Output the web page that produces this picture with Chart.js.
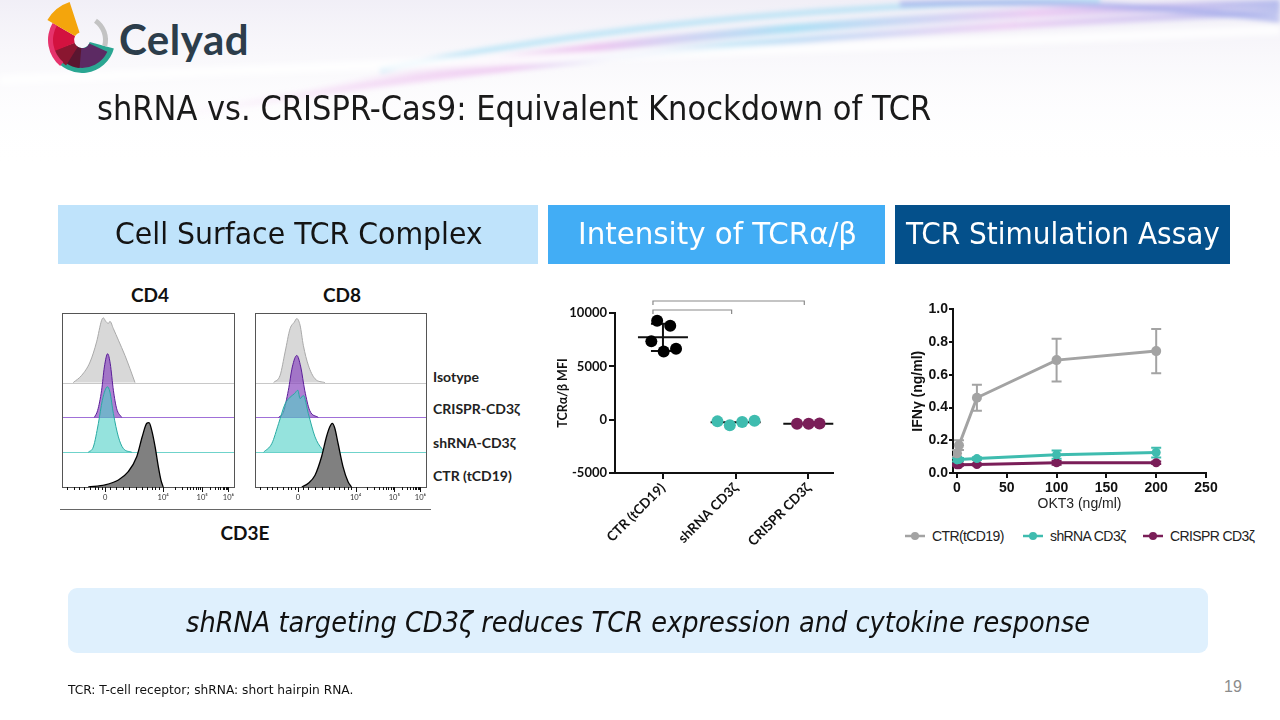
<!DOCTYPE html>
<html>
<head>
<meta charset="utf-8">
<script src="https://cdn.jsdelivr.net/npm/chart.js@4.4.0/dist/chart.umd.min.js"></script>
<style>
  html, body { margin: 0; padding: 0; }
  body {
    width: 1280px; height: 720px; position: relative; overflow: hidden; background: #fff;
    font-family: "DejaVu Sans Condensed", "DejaVu Sans", sans-serif; font-stretch: condensed;
  }
  .abs { position: absolute; }
  .fit { position: absolute; white-space: nowrap; transform-origin: 0 50%; }
  .hdr { position: absolute; top: 205px; height: 59px; }
  .rowlbl { position: absolute; left: 433px; font-family: Lato, sans-serif; font-weight: 700; font-size: 14px; color: #222; }
  .ptitle { position: absolute; font-family: Lato, sans-serif; font-weight: 700; font-size: 19px; color: #111; transform: translate(-50%, -50%); }
  .legend { position: absolute; top: 528px; font-family: "Liberation Sans", Arial, sans-serif; font-size: 14px; color: #222; display: flex; align-items: center; letter-spacing: -0.6px; }
  .legend svg { margin-right: 7px; }
  canvas { position: absolute; }
</style>
</head>
<body>

<!-- background swoosh -->
<svg class="abs" style="left:0;top:0" width="1280" height="200">
  <defs>
    <linearGradient id="bgfade" x1="0" y1="0" x2="0" y2="1">
      <stop offset="0" stop-color="#ebe8f3"/>
      <stop offset="1" stop-color="#ffffff" stop-opacity="0"/>
    </linearGradient>
    <linearGradient id="band" x1="0" y1="0" x2="1" y2="0">
      <stop offset="0" stop-color="#e9b3ea" stop-opacity="0"/>
      <stop offset="0.3" stop-color="#e7a8ea"/>
      <stop offset="0.5" stop-color="#7fd3f2"/>
      <stop offset="0.75" stop-color="#e8b5f0"/>
      <stop offset="1" stop-color="#8f9be6"/>
    </linearGradient>
    <filter id="soft"><feGaussianBlur stdDeviation="2.5"/></filter>
  </defs>
  <rect x="0" y="0" width="1280" height="170" fill="url(#bgfade)" opacity="0.7"/>
  <g filter="url(#soft)" fill="none">
    <path d="M180 115 Q 600 40 1280 12" stroke="url(#band)" stroke-width="7" opacity="0.55"/>
    <path d="M300 95 Q 650 20 1280 4" stroke="url(#band)" stroke-width="9" opacity="0.6"/>
    <path d="M380 70 Q 700 5 1100 0" stroke="#7fd3f2" stroke-width="6" opacity="0.45"/>
    <path d="M900 4 Q 1100 -2 1280 20" stroke="#9aa3ea" stroke-width="6" opacity="0.6"/>
    <path d="M0 80 Q 500 60 1280 30" stroke="#ffffff" stroke-width="10" opacity="0.8"/>
  </g>
</svg>

<!-- logo -->
<svg id="logo" class="abs" style="left:40px;top:0" width="80" height="80"></svg>
<div class="abs" style="left:119px;top:14px;font-family:Lato,sans-serif;font-weight:700;font-size:42px;color:#2c3d4b;letter-spacing:0.5px">Celyad</div>

<!-- title -->
<div id="title" class="fit" data-w="834" style="left:97px;top:89px;font-size:33px;color:#1a1a1a;line-height:40px">shRNA vs. CRISPR-Cas9: Equivalent Knockdown of TCR</div>

<!-- section headers -->
<div class="hdr" style="left:58px;width:480px;background:#bfe3fb"></div>
<div class="hdr" style="left:548px;width:337px;background:#42adf5"></div>
<div class="hdr" style="left:895px;width:335px;background:#04508b"></div>
<div class="fit" data-w="368" style="left:115px;top:216px;font-size:30px;line-height:36px;color:#141414">Cell Surface TCR Complex</div>
<div class="fit" data-w="279" style="left:578px;top:216px;font-size:30px;line-height:36px;color:#fff">Intensity of TCRα/β</div>
<div class="fit" data-w="314" style="left:906px;top:216px;font-size:30px;line-height:36px;color:#fff">TCR Stimulation Assay</div>

<!-- flow panel texts -->
<div class="ptitle" style="left:150px;top:294px">CD4</div>
<div class="ptitle" style="left:342px;top:294px">CD8</div>
<div class="rowlbl" style="top:368px">Isotype</div>
<div class="rowlbl" style="top:400px">CRISPR-CD3ζ</div>
<div class="rowlbl" style="top:434px">shRNA-CD3ζ</div>
<div class="rowlbl" style="top:467px">CTR (tCD19)</div>
<div class="abs" style="left:60px;top:509px;width:371px;height:1px;background:#666"></div>
<div class="ptitle" style="left:245px;top:532px">CD3E</div>

<canvas id="flowCD4" width="177" height="192" style="left:60px;top:311px"></canvas>
<canvas id="flowCD8" width="176" height="192" style="left:253px;top:311px"></canvas>
<canvas id="dotChart" width="285" height="270" style="left:555px;top:290px"></canvas>
<canvas id="lineChart" width="330" height="213" style="left:895px;top:300px"></canvas>

<!-- legend for the line chart -->
<div class="legend" style="left:905px" id="lg0"></div>
<div class="legend" style="left:1023px" id="lg1"></div>
<div class="legend" style="left:1143px" id="lg2"></div>

<!-- bottom banner -->
<div class="abs" style="left:68px;top:588px;width:1140px;height:65px;background:#dff0fd;border-radius:9px"></div>
<div class="fit" data-w="904" style="left:186px;top:604px;font-size:29px;line-height:36px;font-style:italic;color:#111">shRNA targeting CD3ζ reduces TCR expression and cytokine response</div>
<div class="fit" data-w="285" style="left:68px;top:682px;font-size:13px;line-height:16px;color:#111">TCR: T-cell receptor; shRNA: short hairpin RNA.</div>
<div class="abs" style="left:1224px;top:678px;font-family:'Liberation Sans',Arial,sans-serif;font-size:16px;color:#8c8c8c">19</div>

<script>
// ---------- Data: TCR stimulation assay (IFNγ vs OKT3) ----------
const okt3 = [0, 2, 20, 100, 200];
const ctrIfn = [0.12, 0.17, 0.46, 0.69, 0.745];
const ctrErr = [0.02, 0.03, 0.08, 0.13, 0.135];
const shIfn = [0.08, 0.082, 0.088, 0.112, 0.125];
const shErr = [0.01, 0.01, 0.008, 0.025, 0.03];
const crIfn = [0.05, 0.05, 0.052, 0.062, 0.063];
const crErr = [0.006, 0.006, 0.006, 0.012, 0.008];
const okt3Ticks = [0, 50, 100, 150, 200, 250];
const ifnTicks = [0, 0.2, 0.4, 0.6, 0.8, 1.0];
const seriesNames = ['CTR(tCD19)', 'shRNA CD3ζ', 'CRISPR CD3ζ'];

// ---------- Data: TCRα/β MFI dot plot ----------
const groups = ['CTR (tCD19)', 'shRNA CD3ζ', 'CRISPR CD3ζ'];
const ctrMfi = [9280, 8800, 7340, 6400, 6650];
const ctrJitter = [-0.08, 0.1, -0.16, 0.01, 0.18];
const shMfi = [-160, -530, -220, -100];
const shJitter = [-0.25, -0.08, 0.09, 0.26];
const crMfi = [-375, -380, -370];
const crJitter = [-0.155, 0.005, 0.155];
const groupMeans = [7720, -250, -380];
const groupSds = [1280, 0, 0];
const mfiTicks = [-5000, 0, 5000, 10000];

// ---------- Data: CD3E flow histograms (x in display units, y in row heights) ----------
const flowTicks = [25, 58.5, 81, 96.2];
const flowTickLabels = ['0', '10⁴', '10⁵', '10⁶'];
const flowMinorTicks = [3, 7, 10, 13, 16, 19, 21, 23, 28, 31, 35, 39, 43, 46, 49, 52, 54, 56,
  65.3, 69.2, 72, 74.2, 76, 77.5, 78.8, 80, 85.6, 88.3, 90.2, 91.6, 92.8, 93.8, 94.7, 95.5];
const flowRows = ['Isotype', 'CRISPR-CD3ζ', 'shRNA-CD3ζ', 'CTR (tCD19)'];
const rowOffsets = [3, 2, 1, 0];

const cd4Isotype = [[6.5,0],[11.4,0.21],[16.2,0.59],[20,1.17],[22.9,1.79],[23.9,1.86],[25.3,1.76],[26.8,1.7],[27.7,1.76],[29.7,1.55],[32.6,1.22],[36.4,0.78],[39.3,0.4],[42.2,0]];
const cd4Crispr = [[18.7,0],[20.6,0.2],[22.9,0.78],[24.5,1.45],[26.4,1.83],[27.9,1.54],[29.7,0.78],[31.6,0.25],[34.5,0]];
const cd4Shrna = [[15.2,0],[18.1,0.15],[21,0.82],[23.3,1.49],[24.9,1.78],[26.2,1.88],[27.7,1.73],[29.7,1.11],[32.6,0.44],[35.4,0.11],[40.3,0]];
const cd4Ctr = [[15.2,0],[24.9,0.06],[32.6,0.2],[38.3,0.44],[43.2,0.87],[46.4,1.45],[49,1.83],[50.3,1.85],[51.8,1.64],[53.8,1.16],[55.7,0.58],[57.2,0.2],[58.5,0]];

const cd8Isotype = [[10.8,0],[14.6,0.21],[17.5,0.88],[20.4,1.55],[22.9,1.74],[24.3,1.84],[26.2,1.65],[28.1,1.07],[31,0.5],[34.9,0.11],[40.6,0]];
const cd8Crispr = [[13.7,0],[16.5,0.15],[19.4,0.78],[21.7,1.45],[24.3,1.78],[26.6,1.45],[28.9,0.78],[31.8,0.2],[36.8,0]];
const cd8Shrna = [[5,0],[9.8,0.25],[13.7,0.82],[17.5,1.39],[20.4,1.58],[22.9,1.68],[24.9,1.78],[26.2,1.54],[28.1,1.63],[31,1.11],[34.9,0.44],[38.7,0.11],[41.6,0]];
const cd8Ctr = [[27.2,0],[31,0.11],[34.9,0.34],[38.7,0.87],[41.6,1.45],[43.5,1.73],[44.9,1.83],[46.4,1.69],[48.3,1.25],[51.2,0.58],[54.1,0.15],[56.1,0]];

// ---------- Styles ----------
const flowStyles = [
  { fill: '#d8d8d8', line: '#a9a9a9', base: '#c8c8c8' },
  { fill: 'rgba(135,70,190,0.68)', line: '#5a1d98', base: '#a070d8' },
  { fill: 'rgba(78,208,198,0.6)', line: '#27aaa2', base: '#6fd3cb' },
  { fill: '#808080', line: '#000000', base: null }
];
const lineColors = ['#a3a3a3', '#3fbcaf', '#7a1e58'];

// ---------- Fit text widths ----------
document.querySelectorAll('.fit').forEach(el => {
  const w = +el.dataset.w;
  el.style.transform = `scaleX(${w / el.offsetWidth})`;
});

// ---------- Logo ----------
function wedge(cx, cy, r0, r1, a0, a1, color) {
  const rad = a => a * Math.PI / 180;
  const p = (r, a) => `${(cx + r * Math.cos(rad(a))).toFixed(2)} ${(cy + r * Math.sin(rad(a))).toFixed(2)}`;
  const large = (a1 - a0) > 180 ? 1 : 0;
  return `<path d="M${p(r1, a0)} A${r1} ${r1} 0 ${large} 1 ${p(r1, a1)} L${p(r0, a1)} A${r0} ${r0} 0 ${large} 0 ${p(r0, a0)} Z" fill="${color}"/>`;
}
document.getElementById('logo').innerHTML = [
  wedge(42, 40, 8, 33, 15, 150, '#2aa692'),
  wedge(42, 40, 8, 28, 25, 100, '#5c2a63'),
  wedge(42, 40, 8, 28, 95, 125, '#5a1630'),
  wedge(42, 40, 8, 30, 122, 160, '#8a1630'),
  wedge(42, 40, 8, 33, 158, 210, '#d3123f'),
  wedge(42, 40, 29, 34, 130, 210, '#e6336c'),
  wedge(42, 40, 8, 40, 210, 252, '#f4a50c'),
  wedge(42, 40, 21, 26, -55, 15, '#c3c3c3')
].join('');

// ---------- Legend ----------
seriesNames.forEach((name, i) => {
  document.getElementById('lg' + i).innerHTML =
    `<svg width="20" height="10"><line x1="0" y1="5" x2="20" y2="5" stroke="${lineColors[i]}" stroke-width="2.5"/>` +
    `<circle cx="10" cy="5" r="4" fill="${lineColors[i]}"/></svg>${name}`;
});

Chart.defaults.animation = false;

// ---------- Flow histograms ----------
const flowPlugin = {
  id: 'flowFrame',
  beforeDatasetsDraw(chart) {
    const { ctx, chartArea: a, scales: { y } } = chart;
    ctx.save();
    flowStyles.forEach((s, i) => {
      if (!s.base) return;
      const py = Math.round(y.getPixelForValue(rowOffsets[i])) + 0.5;
      ctx.strokeStyle = s.base; ctx.lineWidth = 1;
      ctx.beginPath(); ctx.moveTo(a.left, py); ctx.lineTo(a.right, py); ctx.stroke();
    });
    ctx.restore();
  },
  afterDraw(chart) {
    const { ctx, chartArea: a, scales: { x } } = chart;
    ctx.save();
    ctx.strokeStyle = '#555'; ctx.lineWidth = 1;
    ctx.strokeRect(a.left + 0.5, a.top + 0.5, a.right - a.left - 1, a.bottom - a.top);
    ctx.strokeStyle = '#111';
    x.ticks.forEach(t => {
      const px = Math.round(x.getPixelForValue(t.value)) + 0.5;
      const len = flowTicks.includes(t.value) ? 5 : 3;
      ctx.beginPath(); ctx.moveTo(px, a.bottom); ctx.lineTo(px, a.bottom + len); ctx.stroke();
    });
    ctx.restore();
  }
};

function flowChart(id, curves) {
  new Chart(document.getElementById(id), {
    type: 'line',
    data: {
      datasets: curves.map((c, i) => ({
        data: c.map(p => ({ x: p[0], y: p[1] + rowOffsets[i] })),
        borderColor: flowStyles[i].line,
        backgroundColor: flowStyles[i].fill,
        borderWidth: i === 3 ? 1.3 : 1,
        fill: { value: rowOffsets[i] },
        pointRadius: 0,
        cubicInterpolationMode: 'monotone',
        order: 4 - i
      }))
    },
    options: {
      responsive: false,
      layout: { padding: { top: 2, left: 2, right: 2, bottom: 0 } },
      plugins: { legend: { display: false }, tooltip: { enabled: false } },
      scales: {
        x: {
          type: 'linear', min: 0, max: 100,
          afterBuildTicks: s => { s.ticks = flowTicks.concat(flowMinorTicks).map(v => ({ value: v })); },
          afterFit: s => { s.height = 16; },
          border: { display: false },
          grid: { display: false, drawTicks: false },
          ticks: {
            autoSkip: false, maxRotation: 0, padding: 6,
            font: { family: 'Lato', size: 7.5 }, color: '#333',
            callback: v => { const k = flowTicks.indexOf(v); return k >= 0 ? flowTickLabels[k] : ''; }
          }
        },
        y: { display: false, min: 0, max: 5 }
      }
    },
    plugins: [flowPlugin]
  });
}
flowChart('flowCD4', [cd4Isotype, cd4Crispr, cd4Shrna, cd4Ctr]);
flowChart('flowCD8', [cd8Isotype, cd8Crispr, cd8Shrna, cd8Ctr]);

// ---------- Dot plot: TCRα/β MFI ----------
const dotPlugin = {
  id: 'meanSd',
  beforeDatasetsDraw(chart) {
    const { ctx, scales: { x, y } } = chart;
    ctx.save();
    ctx.strokeStyle = '#111'; ctx.lineWidth = 2;
    groupMeans.forEach((m, i) => {
      const cx = x.getPixelForValue(i + 1);
      const my = y.getPixelForValue(m);
      ctx.beginPath(); ctx.moveTo(cx - 25, my); ctx.lineTo(cx + 25, my); ctx.stroke();
      if (groupSds[i] > 0) {
        const t = y.getPixelForValue(m + groupSds[i]), b = y.getPixelForValue(m - groupSds[i]);
        ctx.beginPath();
        ctx.moveTo(cx, t); ctx.lineTo(cx, b);
        ctx.moveTo(cx - 12, t); ctx.lineTo(cx + 12, t);
        ctx.moveTo(cx - 12, b); ctx.lineTo(cx + 12, b);
        ctx.stroke();
      }
    });
    ctx.restore();
  },
  afterDraw(chart) {
    const { ctx, scales: { x, y } } = chart;
    const top = y.getPixelForValue(mfiTicks[mfiTicks.length - 1]);
    ctx.save();
    ctx.strokeStyle = '#8a8a8a'; ctx.lineWidth = 1.2;
    [[2, top - 3], [3, top - 12]].forEach(([g, py]) => {
      const x0 = x.getPixelForValue(1) - 10, x1 = x.getPixelForValue(g) - 4;
      ctx.beginPath();
      ctx.moveTo(x0, py + 4); ctx.lineTo(x0, py); ctx.lineTo(x1, py); ctx.lineTo(x1, py + 4);
      ctx.stroke();
    });
    ctx.restore();
  }
};

const dotColors = ['#000000', '#3fbcaf', '#7a1e58'];
new Chart(document.getElementById('dotChart'), {
  type: 'scatter',
  data: {
    datasets: [[ctrMfi, ctrJitter], [shMfi, shJitter], [crMfi, crJitter]].map(([vals, jit], i) => ({
      data: vals.map((v, j) => ({ x: i + 1 + jit[j], y: v })),
      backgroundColor: dotColors[i],
      borderColor: dotColors[i],
      borderWidth: 0,
      pointRadius: 6
    }))
  },
  options: {
    responsive: false,
    layout: { padding: { top: 23, right: 7, left: 0, bottom: 0 } },
    plugins: { legend: { display: false }, tooltip: { enabled: false } },
    scales: {
      x: {
        type: 'linear', min: 0.34, max: 3.34,
        afterBuildTicks: s => { s.ticks = groups.map((g, i) => ({ value: i + 1 })); },
        afterFit: s => { s.height = 87; },
        border: { display: true, color: '#111', width: 2 },
        grid: { drawOnChartArea: false, color: '#111', lineWidth: 2, tickLength: 6 },
        ticks: {
          autoSkip: false, minRotation: 45, maxRotation: 45, padding: 1,
          font: { family: 'Lato', size: 13.5, weight: 'bold' }, color: '#111',
          callback: v => groups[v - 1]
        }
      },
      y: {
        min: -5000, max: 10000,
        afterBuildTicks: s => { s.ticks = mfiTicks.map(v => ({ value: v })); },
        afterFit: s => { s.width = 60; },
        border: { display: true, color: '#111', width: 2 },
        grid: { drawOnChartArea: false, color: '#111', lineWidth: 2, tickLength: 6 },
        ticks: { font: { family: 'Lato', size: 13, weight: 'bold' }, color: '#111', padding: 2, callback: v => String(v) },
        title: { display: true, text: 'TCRα/β MFI', font: { family: 'Lato', size: 12.5, weight: 'bold' }, color: '#111', padding: { top: 0, bottom: 0 } }
      }
    }
  },
  plugins: [dotPlugin]
});

// ---------- Line chart: IFNγ ----------
const errorBars = {
  id: 'errorBars',
  beforeDatasetsDraw(chart) {
    const { ctx, scales: { x, y } } = chart;
    ctx.save();
    chart.data.datasets.slice().reverse().forEach(ds => {
      ctx.strokeStyle = ds.borderColor; ctx.lineWidth = 2;
      ds.data.forEach((p, j) => {
        const e = ds.errors[j];
        const px = x.getPixelForValue(p.x);
        const t = y.getPixelForValue(p.y + e), b = y.getPixelForValue(p.y - e);
        ctx.beginPath();
        ctx.moveTo(px, t); ctx.lineTo(px, b);
        ctx.moveTo(px - 5, t); ctx.lineTo(px + 5, t);
        ctx.moveTo(px - 5, b); ctx.lineTo(px + 5, b);
        ctx.stroke();
      });
    });
    ctx.restore();
  }
};

new Chart(document.getElementById('lineChart'), {
  type: 'line',
  data: {
    datasets: [[ctrIfn, ctrErr], [shIfn, shErr], [crIfn, crErr]].map(([vals, err], i) => ({
      label: seriesNames[i],
      data: vals.map((v, j) => ({ x: okt3[j], y: v })),
      errors: err,
      borderColor: lineColors[i],
      backgroundColor: lineColors[i],
      borderWidth: 3,
      pointRadius: i === 0 ? 5 : 4.5,
      pointBorderWidth: 0,
      tension: 0
    }))
  },
  options: {
    responsive: false,
    layout: { padding: { top: 7, right: 19, left: 15, bottom: 0 } },
    plugins: { legend: { display: false }, tooltip: { enabled: false } },
    scales: {
      x: {
        type: 'linear', min: -4, max: 250,
        afterBuildTicks: s => { s.ticks = okt3Ticks.map(v => ({ value: v })); },
        afterFit: s => { s.height = 40; },
        border: { display: true, color: '#111', width: 2 },
        grid: { drawOnChartArea: false, color: '#111', lineWidth: 2, tickLength: 5 },
        ticks: { font: { family: 'Liberation Sans', size: 14, weight: 'bold' }, color: '#111', padding: 2, maxRotation: 0 },
        title: { display: true, text: 'OKT3 (ng/ml)', font: { family: 'Liberation Sans', size: 14 }, color: '#222', padding: { top: 0, bottom: 0 } }
      },
      y: {
        min: 0, max: 1,
        afterBuildTicks: s => { s.ticks = ifnTicks.map(v => ({ value: v })); },
        afterFit: s => { s.width = 43; },
        border: { display: true, color: '#111', width: 2 },
        grid: { drawOnChartArea: false, color: '#111', lineWidth: 2, tickLength: 4 },
        ticks: { font: { family: 'Liberation Sans', size: 14, weight: 'bold' }, color: '#111', padding: 1, callback: v => v.toFixed(1) },
        title: { display: true, text: 'IFNγ (ng/ml)', font: { family: 'Liberation Sans', size: 14, weight: 'bold' }, color: '#111', padding: { top: 0, bottom: 0 } }
      }
    }
  },
  plugins: [errorBars]
});
</script>
</body>
</html>
